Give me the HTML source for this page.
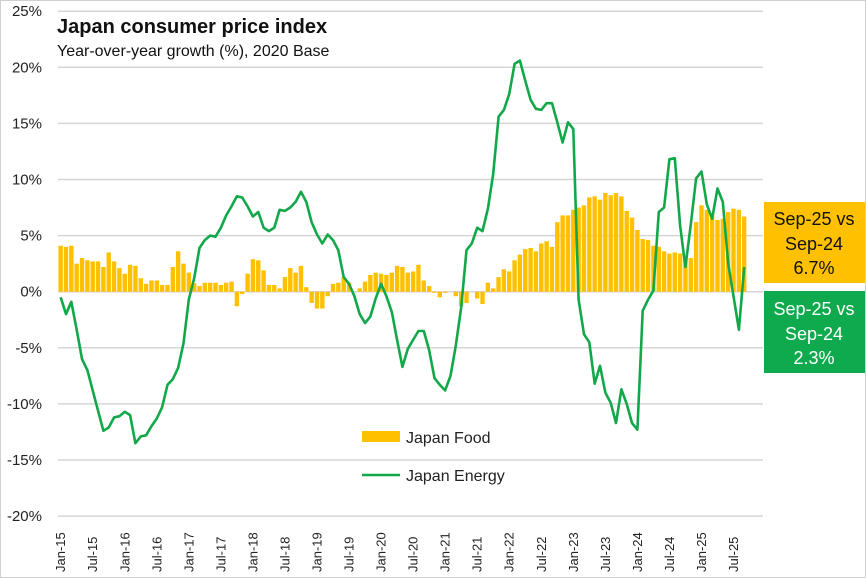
<!DOCTYPE html>
<html><head><meta charset="utf-8"><style>
html,body{margin:0;padding:0;background:#fff}
svg{display:block;font-family:"Liberation Sans",Arial,sans-serif}
</style></head><body>
<svg id="c" width="866" height="578" viewBox="0 0 866 578" xmlns="http://www.w3.org/2000/svg">
<rect x="0.5" y="0.5" width="865" height="577" fill="#fff" stroke="#d0d0d0"/>
<g id="grid"></g>
<g id="bars"></g>
<polyline id="line" fill="none" stroke="#12a84a" stroke-width="2.6" stroke-linejoin="round"/>
<g id="ylab" font-size="15" fill="#222" text-anchor="end"></g>
<g id="xlab" font-size="13" fill="#222"></g>
<text x="57" y="33" font-size="20" font-weight="bold" fill="#111">Japan consumer price index</text>
<text x="57" y="56" font-size="16" fill="#111">Year-over-year growth (%), 2020 Base</text>
<rect x="362" y="431" width="38" height="11" fill="#FFC000"/>
<text x="406" y="443" font-size="16" fill="#222">Japan Food</text>
<line x1="362" y1="475" x2="400" y2="475" stroke="#12a84a" stroke-width="2.6"/>
<text x="406" y="481" font-size="16" fill="#222">Japan Energy</text>
<rect x="764" y="202" width="101" height="81" fill="#FFC000"/>
<g font-size="18" text-anchor="middle" fill="#111">
<text x="814" y="225">Sep-25 vs</text><text x="814" y="250">Sep-24</text><text x="814" y="274">6.7%</text></g>
<rect x="764" y="291" width="101" height="82" fill="#0faa4e"/>
<g font-size="18" text-anchor="middle" fill="#fff">
<text x="814" y="315">Sep-25 vs</text><text x="814" y="340">Sep-24</text><text x="814" y="364">2.3%</text></g>
</svg>
<script>
var food=[4.1,4.0,4.1,2.5,3.0,2.8,2.7,2.7,2.2,3.5,2.7,2.1,1.6,2.4,2.3,1.2,0.7,1.0,1.0,0.6,0.6,2.2,3.6,2.5,1.7,0.75,0.5,0.8,0.8,0.8,0.6,0.8,0.9,-1.3,-0.2,1.6,2.9,2.8,1.9,0.6,0.6,0.3,1.3,2.1,1.7,2.3,0.4,-1.0,-1.5,-1.5,-0.4,0.7,0.8,1.3,0.8,0,0.3,0.9,1.5,1.7,1.6,1.5,1.7,2.3,2.2,1.7,1.8,2.4,1.0,0.5,-0.1,-0.5,
-0.1,0,-0.4,-1.3,-1.0,0,-0.6,-1.1,
0.8,0.3,1.3,2.0,1.8,2.8,3.3,3.8,3.9,3.6,4.3,4.5,4.0,6.2,6.8,6.8,7.3,7.5,7.7,8.4,8.5,8.2,8.8,8.6,8.8,8.5,7.2,6.6,5.5,4.7,4.6,4.1,4.0,3.6,3.4,3.5,3.4,3.0,3.0,6.2,7.7,7.3,6.9,6.4,6.5,7.1,7.4,7.3,6.7];
var en=[-0.5,-2.0,-0.9,-3.4,-6.0,-7.0,-8.8,-10.6,-12.4,-12.1,-11.2,-11.1,-10.7,-11.0,-13.5,-12.9,-12.8,-12.0,-11.3,-10.3,-8.3,-7.8,-6.8,-4.6,-0.7,1.2,3.9,4.6,5.0,4.9,5.7,6.8,7.6,8.5,8.4,7.6,6.7,7.1,5.7,5.4,5.7,7.3,7.2,7.5,8.0,8.9,8.0,6.2,5.1,4.3,5.1,4.6,3.7,1.3,0.7,-0.4,-2.0,-2.8,-2.2,-0.6,0.7,-0.4,-1.8,-4.3,-6.7,-5.1,-4.3,-3.5,-3.5,-5.2,-7.7,-8.3,
-8.8,-7.5,-4.8,-1.4,3.7,4.3,5.7,5.4,7.4,10.5,15.6,16.2,17.6,20.3,20.6,18.8,17.1,16.3,16.2,16.8,16.8,15.1,13.3,15.1,14.5,-0.7,-3.8,-4.5,-8.2,-6.6,-9.0,-9.9,-11.7,-8.7,-10.0,-11.7,-12.3,-1.7,-0.7,0.1,7.1,7.5,11.8,11.9,5.9,2.2,6.0,10.1,10.7,7.8,6.5,9.2,8.0,2.5,-0.4,-3.4,2.2];
var NS="http://www.w3.org/2000/svg";
function el(t,a,p,txt){var e=document.createElementNS(NS,t);for(var k in a)e.setAttribute(k,a[k]);if(txt)e.textContent=txt;document.getElementById(p).appendChild(e);return e;}
var y0=291.7,u=11.22,x0=58,w=5.34;
function Y(v){return y0-v*u;}
function X(i){return x0+(i+0.5)*w;}
for(var v=25;v>=-20;v-=5){
 el("line",{x1:58,x2:763,y1:Y(v),y2:Y(v),stroke:"#d6d6d6","stroke-width":1.5},"grid");
 el("text",{x:42,y:Y(v)+5},"ylab",v+"%");
}
food.forEach(function(v,i){
 var y=Math.min(Y(v),y0),h=Math.abs(v*u);
 el("rect",{x:X(i)-2.2,y:y,width:4.4,height:Math.max(h,0.01),fill:"#FFC000"},"bars");
});
document.getElementById("line").setAttribute("points",en.map(function(v,i){return X(i).toFixed(1)+","+Y(v).toFixed(1)}).join(" "));
for(var yr=15;yr<=25;yr++){
 [["Jan",0],["Jul",6]].forEach(function(m){
  var i=(yr-15)*12+m[1];var x=X(i)+4.5;
  el("text",{x:0,y:0,transform:"translate("+x+",572) rotate(-90)"},"xlab",m[0]+"-"+yr);
 });
}
</script>
</body></html>
